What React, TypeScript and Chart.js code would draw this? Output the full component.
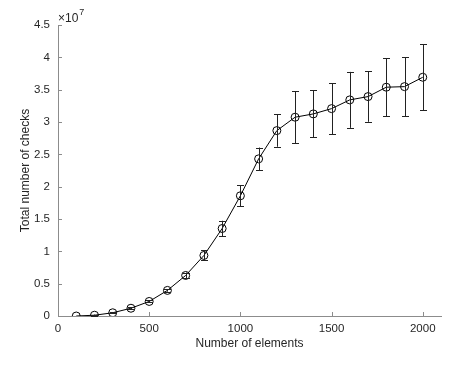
import React, { useEffect, useRef } from "react";
import { Chart, registerables } from "chart.js";

Chart.register(...registerables);

const elements = [100, 200, 300, 400, 500, 600, 700, 800, 900, 1000, 1100, 1200, 1300, 1400, 1500, 1600, 1700, 1800, 1900, 2000];
const checks = [0.0e7, 0.012e7, 0.05e7, 0.12e7, 0.225e7, 0.396e7, 0.627e7, 0.936e7, 1.353e7, 1.859e7, 2.43e7, 2.867e7, 3.074e7, 3.125e7, 3.207e7, 3.342e7, 3.393e7, 3.538e7, 3.547e7, 3.692e7];
const errors = [0.0e7, 0.01e7, 0.01e7, 0.015e7, 0.015e7, 0.02e7, 0.045e7, 0.077e7, 0.12e7, 0.165e7, 0.175e7, 0.25e7, 0.4e7, 0.363e7, 0.394e7, 0.433e7, 0.39e7, 0.448e7, 0.456e7, 0.51e7];
const xTicks = [0, 500, 1000, 1500, 2000];
const yTicks = [0, 0.5e7, 1e7, 1.5e7, 2e7, 2.5e7, 3e7, 3.5e7, 4e7, 4.5e7];
const yTickLabels = ["0", "0.5", "1", "1.5", "2", "2.5", "3", "3.5", "4", "4.5"];

const TEXT = "#262626";
const AXIS = "#8c8c8c";
const FONT = "'Liberation Sans', Arial, Helvetica, sans-serif";

const errorBarPlugin = {
  id: "errorBars",
  afterDatasetsDraw(chart: any) {
    const { ctx, scales } = chart;
    const xs = scales.x;
    const ys = scales.y;
    ctx.save();
    ctx.strokeStyle = "#222";
    ctx.lineWidth = 1;
    elements.forEach((e, i) => {
      const err = errors[i];
      if (!err) return;
      const px = Math.round(xs.getPixelForValue(e)) + 0.5;
      const top = ys.getPixelForValue(checks[i] + err);
      const bot = ys.getPixelForValue(checks[i] - err);
      const cap = 3.5;
      ctx.beginPath();
      ctx.moveTo(px, top);
      ctx.lineTo(px, bot);
      ctx.moveTo(px - cap, Math.round(top) + 0.5);
      ctx.lineTo(px + cap, Math.round(top) + 0.5);
      ctx.moveTo(px - cap, Math.round(bot) + 0.5);
      ctx.lineTo(px + cap, Math.round(bot) + 0.5);
      ctx.stroke();
    });
    ctx.restore();
  },
};

const innerTicksPlugin = {
  id: "innerTicks",
  afterDraw(chart: any) {
    const { ctx, scales, chartArea } = chart;
    const xs = scales.x;
    const ys = scales.y;
    const len = 4;
    ctx.save();
    ctx.strokeStyle = AXIS;
    ctx.lineWidth = 1;
    ctx.beginPath();
    xs.ticks.forEach((t: any) => {
      const px = Math.round(xs.getPixelForValue(t.value)) + 0.5;
      ctx.moveTo(px, chartArea.bottom);
      ctx.lineTo(px, chartArea.bottom - len);
    });
    ys.ticks.forEach((t: any) => {
      const py = Math.round(ys.getPixelForValue(t.value)) + 0.5;
      ctx.moveTo(chartArea.left, py);
      ctx.lineTo(chartArea.left + len, py);
    });
    ctx.stroke();
    // exponent label
    ctx.fillStyle = TEXT;
    ctx.textBaseline = "alphabetic";
    ctx.textAlign = "left";
    ctx.font = `12px ${FONT}`;
    const x0 = chartArea.left;
    const y0 = chartArea.top - 3;
    ctx.fillText("\u00d710", x0, y0);
    const w = ctx.measureText("\u00d710").width;
    ctx.font = `9px ${FONT}`;
    ctx.fillText("7", x0 + w + 1, y0 - 7);
    ctx.restore();
  },
};

export default function App() {
  const ref = useRef<HTMLCanvasElement | null>(null);
  useEffect(() => {
    document.body.style.margin = "0";
    const canvas = ref.current;
    if (!canvas) return;
    const chart = new Chart(canvas, {
      type: "line",
      data: {
        datasets: [
          {
            data: elements.map((e, i) => ({ x: e, y: checks[i] })),
            borderColor: "#000",
            borderWidth: 1,
            pointRadius: 4,
            pointBorderWidth: 1,
            pointBorderColor: "#000",
            pointBackgroundColor: "rgba(0,0,0,0)",
            fill: false,
            tension: 0,
          },
        ],
      },
      options: {
        responsive: false,
        animation: false,
        events: [],
        layout: { padding: { top: 25, right: 17, left: 0, bottom: 0 } },
        plugins: { legend: { display: false }, tooltip: { enabled: false } },
        scales: {
          x: {
            type: "linear",
            min: 0,
            max: 2100,
            grid: { display: false, drawTicks: false, tickLength: 0 },
            border: { display: true, color: AXIS, width: 1 },
            afterBuildTicks: (s: any) => {
              s.ticks = xTicks.map((v) => ({ value: v }));
            },
            ticks: {
              color: TEXT,
              padding: 6,
              maxRotation: 0,
              autoSkip: false,
              font: { family: FONT, size: 11.5 },
              callback: (v: any) => String(v),
            },
            title: {
              display: true,
              text: "Number of elements",
              color: TEXT,
              font: { family: FONT, size: 12 },
              padding: { top: 0, bottom: 16 },
            },
            afterFit: (s: any) => {
              s.height = 367 - 316;
            },
          },
          y: {
            type: "linear",
            min: 0,
            max: 4.5e7,
            grid: { display: false, drawTicks: false, tickLength: 0 },
            border: { display: true, color: AXIS, width: 1 },
            afterBuildTicks: (s: any) => {
              s.ticks = yTicks.map((v) => ({ value: v }));
            },
            ticks: {
              color: TEXT,
              padding: 8,
              autoSkip: false,
              font: { family: FONT, size: 11.5 },
              callback: (v: any) => {
                const idx = yTicks.indexOf(Number(v));
                return idx >= 0 ? yTickLabels[idx] : "";
              },
            },
            title: {
              display: true,
              text: "Total number of checks",
              color: TEXT,
              font: { family: FONT, size: 12 },
              padding: { top: 18, bottom: 0 },
            },
            afterFit: (s: any) => {
              s.width = 58;
            },
          },
        },
      },
      plugins: [errorBarPlugin, innerTicksPlugin],
    });
    return () => chart.destroy();
  }, []);
  return <canvas ref={ref} width={458} height={367} style={{ display: "block" }} />;
}
